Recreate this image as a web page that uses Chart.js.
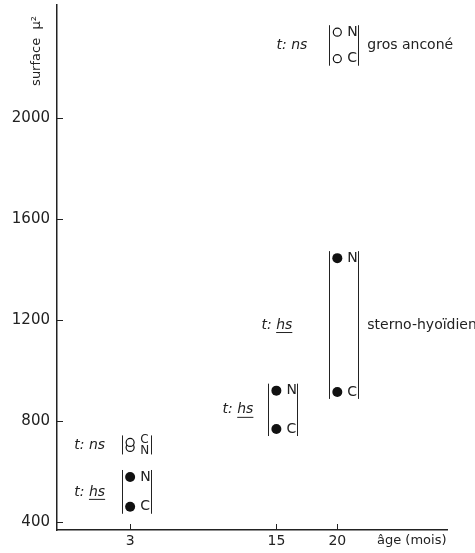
<!DOCTYPE html>
<html>
<head>
<meta charset="utf-8">
<script src="https://cdn.jsdelivr.net/npm/chart.js@4"></script>
<style>
  html, body { margin: 0; padding: 0; background: #fff; }
</style>
</head>
<body>
<canvas id="chart" width="475" height="553"></canvas>
<script>
// one group = one bracket: age (months), test result, muscle, surface of N and C
const groupAge = [20, 20, 15, 3, 3];
const groupTest = ['ns', 'hs', 'hs', 'ns', 'hs'];
const groupMuscle = ['gros anconé', 'sterno-hyoïdien', '', '', ''];
const surfaceN = [2340, 1445, 920, 695, 578];
const surfaceC = [2235, 915, 768, 715, 460];

const xTicks = [3, 15, 20];
const yTicks = [400, 800, 1200, 1600, 2000];

// label placement (pixels), kept apart from the data
const tagOffset = [30, 45, 23, 25, 25];
const INK = '#222';
const FONT = "'DejaVu Sans', sans-serif";

function pointsFor(test) {
  const pts = [];
  groupAge.forEach((age, i) => {
    if (groupTest[i] !== test) return;
    pts.push({ x: age, y: surfaceN[i] });
    pts.push({ x: age, y: surfaceC[i] });
  });
  return pts;
}

const annotations = {
  id: 'annotations',
  afterDatasetsDraw(chart) {
    const { ctx, scales: { x, y } } = chart;
    ctx.save();
    ctx.strokeStyle = INK;
    ctx.fillStyle = INK;
    ctx.lineWidth = 1;

    // small inward tick marks
    ctx.beginPath();
    yTicks.forEach(v => {
      const py = Math.round(y.getPixelForValue(v)) + 0.5;
      ctx.moveTo(x.left, py);
      ctx.lineTo(x.left + 6, py);
    });
    xTicks.forEach(v => {
      const px = Math.round(x.getPixelForValue(v)) + 0.5;
      ctx.moveTo(px, y.bottom);
      ctx.lineTo(px, y.bottom - 6);
    });
    ctx.stroke();

    groupAge.forEach((age, i) => {
      const px = x.getPixelForValue(age);
      const yN = y.getPixelForValue(surfaceN[i]);
      const yC = y.getPixelForValue(surfaceC[i]);
      const top = Math.min(yN, yC) - 7;
      const bot = Math.max(yN, yC) + 7;
      const mid = (yN + yC) / 2;

      // bracket
      ctx.beginPath();
      ctx.moveTo(Math.round(px - 8) + 0.5, top);
      ctx.lineTo(Math.round(px - 8) + 0.5, bot);
      ctx.moveTo(Math.round(px + 21) + 0.5, top);
      ctx.lineTo(Math.round(px + 21) + 0.5, bot);
      ctx.stroke();

      // N / C letters, spread apart when the points are close
      let lN = yN, lC = yC, size = 14;
      if (Math.abs(yN - yC) < 13) {
        size = 12;
        const s = yN > yC ? 1 : -1;
        lN = mid + s * 5.5;
        lC = mid - s * 5.5;
      }
      ctx.font = size + 'px ' + FONT;
      ctx.textAlign = 'left';
      ctx.textBaseline = 'middle';
      ctx.fillText('N', px + 10, lN);
      ctx.fillText('C', px + 10, lC);

      // test tag, "hs" underlined
      ctx.font = 'italic 14px ' + FONT;
      const right = px - tagOffset[i];
      const word = groupTest[i];
      const wWord = ctx.measureText(word).width;
      const wHead = ctx.measureText('t: ').width;
      ctx.fillText('t: ', right - wWord - wHead, mid);
      ctx.fillText(word, right - wWord, mid);
      if (word === 'hs') {
        ctx.beginPath();
        ctx.moveTo(right - wWord, mid + 7.5);
        ctx.lineTo(right, mid + 7.5);
        ctx.stroke();
      }

      // muscle name
      if (groupMuscle[i]) {
        ctx.font = '14px ' + FONT;
        ctx.fillText(groupMuscle[i], px + 30, mid);
      }
    });

    // axis titles
    ctx.font = '13px ' + FONT;
    ctx.textAlign = 'left';
    ctx.textBaseline = 'middle';
    ctx.fillText('âge (mois)', 377, 541);

    ctx.translate(37, 51);
    ctx.rotate(-Math.PI / 2);
    ctx.textAlign = 'center';
    ctx.fillText('surface  µ²', 0, 0);
    ctx.restore();
  }
};

new Chart(document.getElementById('chart'), {
  type: 'scatter',
  data: {
    datasets: [
      {
        label: 'hs',
        data: pointsFor('hs'),
        pointRadius: 5,
        pointBackgroundColor: '#111',
        pointBorderColor: '#111',
        pointBorderWidth: 0
      },
      {
        label: 'ns',
        data: pointsFor('ns'),
        pointRadius: 4,
        pointBackgroundColor: '#fff',
        pointBorderColor: '#111',
        pointBorderWidth: 1.2
      }
    ]
  },
  options: {
    responsive: false,
    animation: false,
    layout: { padding: { top: 5, right: 28, left: 0, bottom: 0 } },
    plugins: { legend: { display: false }, tooltip: { enabled: false } },
    scales: {
      x: {
        type: 'linear',
        min: -3,
        max: 29,
        grid: { display: false, drawTicks: false },
        border: { display: true, color: INK, width: 1.5 },
        afterBuildTicks: scale => { scale.ticks = xTicks.map(v => ({ value: v })); },
        afterFit: scale => {
          scale.height = 23;
          scale.paddingLeft = 0;
          scale.paddingRight = 0;
        },
        ticks: {
          autoSkip: false,
          maxRotation: 0,
          padding: 3,
          color: INK,
          font: { family: FONT, size: 14 },
          callback: v => String(v)
        }
      },
      y: {
        type: 'linear',
        min: 368,
        max: 2447,
        grid: { display: false, drawTicks: false },
        border: { display: true, color: INK, width: 1.5 },
        afterBuildTicks: scale => { scale.ticks = yTicks.map(v => ({ value: v })); },
        afterFit: scale => {
          scale.width = 57;
          scale.paddingTop = 0;
          scale.paddingBottom = 0;
        },
        ticks: {
          autoSkip: false,
          padding: 7,
          color: INK,
          font: { family: FONT, size: 15 },
          callback: v => String(v)
        }
      }
    }
  },
  plugins: [annotations]
});
</script>
</body>
</html>
